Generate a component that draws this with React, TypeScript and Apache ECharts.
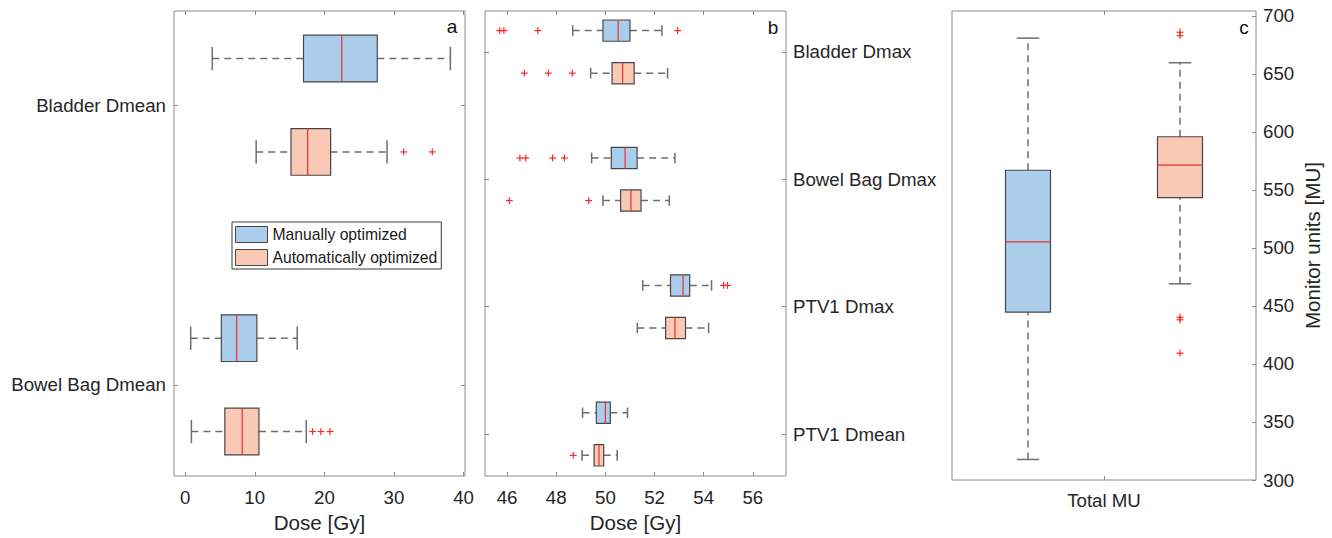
import React, { useEffect, useRef } from "react";
import * as echarts from "echarts";

const FONT = "'Liberation Sans', Arial, Helvetica, sans-serif";
const TEXT = "#262626";
const FRAME = "#8c8c8c";
const BLUE = "#abcdec";
const ORANGE = "#f9c9b5";
const EDGE = "#474747";
const WHISKER = "#6e6e6e";
const MEDIAN = "#e8322b";
const OUTLIER = "#ff2424";

// ---------- Panel a ----------
const categoriesA = ["Bladder Dmean", "Bowel Bag Dmean"];
// [lower whisker, Q1, median, Q3, upper whisker]
const manualA = [
  [3.9, 17.0, 22.5, 27.6, 38.1],
  [0.8, 5.2, 7.4, 10.3, 16.1],
];
const autoA = [
  [10.2, 15.2, 17.6, 20.9, 29.0],
  [0.9, 5.7, 8.2, 10.6, 17.4],
];
const manualOutliersA: number[][] = [[], []];
const autoOutliersA = [[31.4, 35.5], [18.3, 19.5, 20.8]];
const ticksA = [0, 10, 20, 30, 40];

// ---------- Panel b ----------
const categoriesB = ["Bladder Dmax", "Bowel Bag Dmax", "PTV1 Dmax", "PTV1 Dmean"];
const manualB = [
  [48.67, 49.9, 50.52, 51.0, 52.3],
  [49.44, 50.24, 50.8, 51.29, 52.83],
  [51.52, 52.65, 53.16, 53.43, 54.32],
  [49.07, 49.63, 50.0, 50.2, 50.9],
];
const autoB = [
  [49.4, 50.27, 50.7, 51.17, 52.53],
  [49.9, 50.62, 51.04, 51.45, 52.6],
  [51.3, 52.45, 52.83, 53.26, 54.2],
  [49.05, 49.54, 49.74, 49.93, 50.48],
];
const manualOutliersB = [
  [45.7, 45.87, 47.25, 52.94],
  [46.52, 46.76, 47.85, 48.33],
  [54.81, 54.97],
  [],
];
const autoOutliersB = [[46.7, 47.68, 48.65], [46.09, 49.32], [], [48.69]];
const ticksB = [46, 48, 50, 52, 54, 56];

// ---------- Panel c ----------
const categoriesC = ["Total MU"];
const manualC = [[317.7, 444.7, 505.3, 567.0, 680.9]];
const autoC = [[469.1, 543.5, 571.4, 595.9, 659.7]];
const manualOutliersC: number[][] = [[]];
const autoOutliersC = [[686, 683, 440.3, 438.1, 409.3]];
const ticksC = [300, 350, 400, 450, 500, 550, 600, 650, 700];

const GROUP_OFFSET = 0.167;
const BOX_T = 0.167;
const BOX_C = 0.148;
const GROUP_OFFSET_C = 0.25;

const boxData = (stats: number[][], sign: number, off: number) =>
  stats.map((s, i) => [i + 1 + sign * off, ...s]);
const outlierData = (outs: number[][], sign: number, off: number) =>
  outs.flatMap((arr, i) => arr.map((v) => [v, i + 1 + sign * off]));
const outlierDataV = (outs: number[][], sign: number, off: number) =>
  outs.flatMap((arr, i) => arr.map((v) => [i + 1 + sign * off, v]));

const whiskerStyle = { stroke: WHISKER, lineWidth: 1.5, lineDash: [7, 5] };
const capStyle = { stroke: WHISKER, lineWidth: 1.5 };

function hBox(fill: string, thick: number) {
  return (_p: any, api: any) => {
    const pos = api.value(0);
    const lo = api.coord([api.value(1), pos]);
    const q1 = api.coord([api.value(2), pos]);
    const md = api.coord([api.value(3), pos]);
    const q3 = api.coord([api.value(4), pos]);
    const hi = api.coord([api.value(5), pos]);
    const half = Math.abs(api.size([0, thick])[1]) / 2;
    const y = lo[1];
    const cap = half / 2;
    return {
      type: "group",
      children: [
        { type: "line", shape: { x1: lo[0], y1: y, x2: q1[0], y2: y }, style: whiskerStyle },
        { type: "line", shape: { x1: q3[0], y1: y, x2: hi[0], y2: y }, style: whiskerStyle },
        { type: "line", shape: { x1: lo[0], y1: y - cap, x2: lo[0], y2: y + cap }, style: capStyle },
        { type: "line", shape: { x1: hi[0], y1: y - cap, x2: hi[0], y2: y + cap }, style: capStyle },
        {
          type: "rect",
          shape: { x: q1[0], y: y - half, width: q3[0] - q1[0], height: 2 * half },
          style: { fill, stroke: EDGE, lineWidth: 1.2 },
        },
        { type: "line", shape: { x1: md[0], y1: y - half, x2: md[0], y2: y + half }, style: { stroke: MEDIAN, lineWidth: 1.2 } },
      ],
    };
  };
}

function vBox(fill: string, thick: number) {
  return (_p: any, api: any) => {
    const pos = api.value(0);
    const lo = api.coord([pos, api.value(1)]);
    const q1 = api.coord([pos, api.value(2)]);
    const md = api.coord([pos, api.value(3)]);
    const q3 = api.coord([pos, api.value(4)]);
    const hi = api.coord([pos, api.value(5)]);
    const half = Math.abs(api.size([thick, 0])[0]) / 2;
    const x = lo[0];
    const cap = half / 2;
    return {
      type: "group",
      children: [
        { type: "line", shape: { x1: x, y1: lo[1], x2: x, y2: q1[1] }, style: whiskerStyle },
        { type: "line", shape: { x1: x, y1: q3[1], x2: x, y2: hi[1] }, style: whiskerStyle },
        { type: "line", shape: { x1: x - cap, y1: lo[1], x2: x + cap, y2: lo[1] }, style: capStyle },
        { type: "line", shape: { x1: x - cap, y1: hi[1], x2: x + cap, y2: hi[1] }, style: capStyle },
        {
          type: "rect",
          shape: { x: x - half, y: q3[1], width: 2 * half, height: q1[1] - q3[1] },
          style: { fill, stroke: EDGE, lineWidth: 1.2 },
        },
        { type: "line", shape: { x1: x - half, y1: md[1], x2: x + half, y2: md[1] }, style: { stroke: MEDIAN, lineWidth: 1.2 } },
      ],
    };
  };
}

function plus(_p: any, api: any) {
  const c = api.coord([api.value(0), api.value(1)]);
  const s = 3.4;
  const st = { stroke: OUTLIER, lineWidth: 1.2 };
  return {
    type: "group",
    children: [
      { type: "line", shape: { x1: c[0] - s, y1: c[1], x2: c[0] + s, y2: c[1] }, style: st },
      { type: "line", shape: { x1: c[0], y1: c[1] - s, x2: c[0], y2: c[1] + s }, style: st },
    ],
  };
}

const tickStyle = { show: true, inside: true, length: 4, lineStyle: { color: FRAME, width: 1 } };
const labelStyle = { color: TEXT, fontSize: 18.7, fontFamily: FONT };
const nameStyle = { color: TEXT, fontSize: 20.6, fontFamily: FONT };

function valueAxis(opts: any) {
  return {
    type: "value",
    splitLine: { show: false },
    axisLine: { show: false, onZero: false },
    ...opts,
  };
}

export default function App() {
  const ref = useRef<HTMLDivElement>(null);

  useEffect(() => {
    document.body.style.margin = "0";
    if (!ref.current) return;
    const chart = echarts.init(ref.current, null, { renderer: "svg" });
    const catTicksA = categoriesA.map((_, i) => i + 1);
    const catTicksB = categoriesB.map((_, i) => i + 1);
    const catTicksC = categoriesC.map((_, i) => i + 1);

    const option: any = {
      animation: false,
      backgroundColor: "#ffffff",
      textStyle: { fontFamily: FONT },
      grid: [
        { left: 174, top: 11, width: 291, height: 469, show: true, borderColor: FRAME, borderWidth: 1, backgroundColor: "transparent" },
        { left: 485, top: 11, width: 301, height: 469, show: true, borderColor: FRAME, borderWidth: 1, backgroundColor: "transparent" },
        { left: 952, top: 11, width: 304, height: 469, show: true, borderColor: FRAME, borderWidth: 1, backgroundColor: "transparent" },
      ],
      legend: {
        orient: "vertical",
        left: 232,
        top: 222,
        icon: "rect",
        itemWidth: 32,
        itemHeight: 16,
        itemGap: 6,
        padding: [4, 4, 3, 3],
        backgroundColor: "#ffffff",
        borderColor: "#3a3a3a",
        borderWidth: 1,
        borderRadius: 0,
        selectedMode: false,
        textStyle: { color: "#1a1a1a", fontSize: 15.7, fontFamily: FONT },
        data: [
          { name: "Manually optimized", itemStyle: { color: BLUE, borderColor: EDGE, borderWidth: 1 } },
          { name: "Automatically optimized", itemStyle: { color: ORANGE, borderColor: EDGE, borderWidth: 1 } },
        ],
      },
      xAxis: [
        valueAxis({
          gridIndex: 0, position: "bottom", min: -1.6, max: 40.2,
          axisTick: { ...tickStyle, customValues: ticksA },
          axisLabel: { ...labelStyle, margin: 12, customValues: ticksA },
          name: "Dose [Gy]", nameLocation: "middle", nameGap: 36, nameTextStyle: nameStyle,
        }),
        valueAxis({
          gridIndex: 0, position: "top", min: -1.6, max: 40.2,
          axisTick: { ...tickStyle, customValues: ticksA },
          axisLabel: { show: false },
        }),
        valueAxis({
          gridIndex: 1, position: "bottom", min: 45.1, max: 57.35,
          axisTick: { ...tickStyle, customValues: ticksB },
          axisLabel: { ...labelStyle, margin: 12, customValues: ticksB },
          name: "Dose [Gy]", nameLocation: "middle", nameGap: 36, nameTextStyle: nameStyle,
        }),
        valueAxis({
          gridIndex: 1, position: "top", min: 45.1, max: 57.35,
          axisTick: { ...tickStyle, customValues: ticksB },
          axisLabel: { show: false },
        }),
        valueAxis({
          gridIndex: 2, position: "bottom", min: 0.5, max: 1.5,
          axisTick: { ...tickStyle, customValues: catTicksC },
          axisLabel: { ...labelStyle, margin: 11, customValues: catTicksC, formatter: (v: number) => categoriesC[Math.round(v) - 1] ?? "" },
        }),
        valueAxis({
          gridIndex: 2, position: "top", min: 0.5, max: 1.5,
          axisTick: { ...tickStyle, customValues: catTicksC },
          axisLabel: { show: false },
        }),
      ],
      yAxis: [
        valueAxis({
          gridIndex: 0, position: "left", inverse: true, min: 0.663, max: 2.326,
          axisTick: { ...tickStyle, customValues: catTicksA },
          axisLabel: { ...labelStyle, margin: 8, customValues: catTicksA, formatter: (v: number) => categoriesA[Math.round(v) - 1] ?? "" },
        }),
        valueAxis({
          gridIndex: 0, position: "right", inverse: true, min: 0.663, max: 2.326,
          axisTick: { ...tickStyle, customValues: catTicksA },
          axisLabel: { show: false },
        }),
        valueAxis({
          gridIndex: 1, position: "right", inverse: true, min: 0.679, max: 4.329,
          axisTick: { ...tickStyle, customValues: catTicksB },
          axisLabel: { ...labelStyle, margin: 7, customValues: catTicksB, formatter: (v: number) => categoriesB[Math.round(v) - 1] ?? "" },
        }),
        valueAxis({
          gridIndex: 1, position: "left", inverse: true, min: 0.679, max: 4.329,
          axisTick: { ...tickStyle, customValues: catTicksB },
          axisLabel: { show: false },
        }),
        valueAxis({
          gridIndex: 2, position: "right", min: 300, max: 704.3,
          axisTick: { ...tickStyle, customValues: ticksC },
          axisLabel: { ...labelStyle, margin: 7, customValues: ticksC },
          name: "Monitor units [MU]", nameLocation: "middle", nameRotate: 90, nameGap: 46, nameTextStyle: nameStyle,
        }),
      ],
      series: [
        { type: "custom", name: "Manually optimized", xAxisIndex: 0, yAxisIndex: 0, itemStyle: { color: BLUE }, renderItem: hBox(BLUE, BOX_T), data: boxData(manualA, -1, GROUP_OFFSET), z: 2 },
        { type: "custom", name: "Automatically optimized", xAxisIndex: 0, yAxisIndex: 0, itemStyle: { color: ORANGE }, renderItem: hBox(ORANGE, BOX_T), data: boxData(autoA, 1, GROUP_OFFSET), z: 2 },
        { type: "custom", name: "outliers-a", xAxisIndex: 0, yAxisIndex: 0, renderItem: plus, data: [...outlierData(manualOutliersA, -1, GROUP_OFFSET), ...outlierData(autoOutliersA, 1, GROUP_OFFSET)], z: 3 },
        { type: "custom", name: "Manually optimized", xAxisIndex: 2, yAxisIndex: 2, itemStyle: { color: BLUE }, renderItem: hBox(BLUE, BOX_T), data: boxData(manualB, -1, GROUP_OFFSET), z: 2 },
        { type: "custom", name: "Automatically optimized", xAxisIndex: 2, yAxisIndex: 2, itemStyle: { color: ORANGE }, renderItem: hBox(ORANGE, BOX_T), data: boxData(autoB, 1, GROUP_OFFSET), z: 2 },
        { type: "custom", name: "outliers-b", xAxisIndex: 2, yAxisIndex: 2, renderItem: plus, data: [...outlierData(manualOutliersB, -1, GROUP_OFFSET), ...outlierData(autoOutliersB, 1, GROUP_OFFSET)], z: 3 },
        { type: "custom", name: "Manually optimized", xAxisIndex: 4, yAxisIndex: 4, itemStyle: { color: BLUE }, renderItem: vBox(BLUE, BOX_C), data: boxData(manualC, -1, GROUP_OFFSET_C), z: 2 },
        { type: "custom", name: "Automatically optimized", xAxisIndex: 4, yAxisIndex: 4, itemStyle: { color: ORANGE }, renderItem: vBox(ORANGE, BOX_C), data: boxData(autoC, 1, GROUP_OFFSET_C), z: 2 },
        { type: "custom", name: "outliers-c", xAxisIndex: 4, yAxisIndex: 4, renderItem: plus, data: [...outlierDataV(manualOutliersC, -1, GROUP_OFFSET_C), ...outlierDataV(autoOutliersC, 1, GROUP_OFFSET_C)], z: 3 },
      ],
      graphic: [
        { type: "text", x: 452, y: 26.3, style: { text: "a", fontSize: 19, fontFamily: FONT, fill: "#111", align: "center", verticalAlign: "middle" } },
        { type: "text", x: 773, y: 27.3, style: { text: "b", fontSize: 19, fontFamily: FONT, fill: "#111", align: "center", verticalAlign: "middle" } },
        { type: "text", x: 1244, y: 27, style: { text: "c", fontSize: 19, fontFamily: FONT, fill: "#111", align: "center", verticalAlign: "middle" } },
      ],
    };
    chart.setOption(option);
    return () => chart.dispose();
  }, []);

  return <div ref={ref} style={{ width: 1332, height: 538 }} />;
}
